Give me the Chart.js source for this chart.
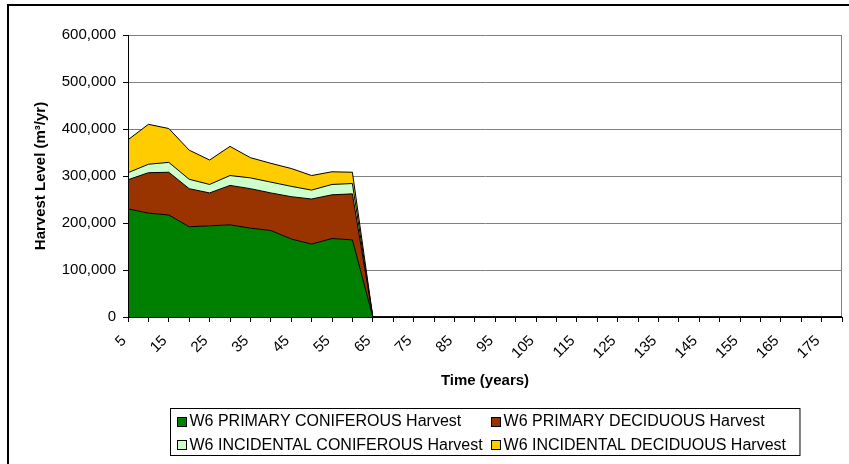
<!DOCTYPE html>
<html lang="en">
<head>
    <meta charset="UTF-8">
    <title>W6 Harvest Level</title>
    <script src="https://cdn.jsdelivr.net/npm/chart.js@4.4.1/dist/chart.umd.min.js"></script>
    <style>
        body {
            margin: 0;
            background: #ffffff;
        }
        #harvestChart {
            display: block;
        }
    </style>
</head>
<body>
    <canvas id="harvestChart" width="849" height="464"></canvas>
    <script>
        // time axis (years)
        const years = [5, 10, 15, 20, 25, 30, 35, 40, 45, 50, 55, 60, 65, 70, 75, 80, 85, 90,
            95, 100, 105, 110, 115, 120, 125, 130, 135, 140, 145, 150, 155, 160, 165, 170, 175, 180];

        // harvest volumes, m3/yr
        const primaryConiferous = [230000, 221000, 217000, 192000, 194000, 196000, 189000, 184000, 166000, 155000, 167000, 164000, 0,
            0, 0, 0, 0, 0, 0, 0, 0, 0, 0, 0, 0, 0, 0, 0, 0, 0, 0, 0, 0, 0, 0, 0];
        const primaryDeciduous = [62000, 86000, 91000, 81000, 70000, 84000, 84000, 80000, 90000, 96000, 93000, 98000, 0,
            0, 0, 0, 0, 0, 0, 0, 0, 0, 0, 0, 0, 0, 0, 0, 0, 0, 0, 0, 0, 0, 0, 0];
        const incidentalConiferous = [15000, 18000, 21000, 20000, 18000, 21000, 23000, 23000, 22000, 19000, 22000, 22000, 0,
            0, 0, 0, 0, 0, 0, 0, 0, 0, 0, 0, 0, 0, 0, 0, 0, 0, 0, 0, 0, 0, 0, 0];
        const incidentalDeciduous = [70000, 85000, 72000, 62000, 52000, 62000, 43000, 40000, 38000, 31000, 27000, 24000, 0,
            0, 0, 0, 0, 0, 0, 0, 0, 0, 0, 0, 0, 0, 0, 0, 0, 0, 0, 0, 0, 0, 0, 0];

        const seriesNames = [
            'W6 PRIMARY CONIFEROUS Harvest',
            'W6 PRIMARY DECIDUOUS Harvest',
            'W6 INCIDENTAL CONIFEROUS Harvest',
            'W6 INCIDENTAL DECIDUOUS Harvest'
        ];
        const seriesColors = ['#008000', '#993300', '#ccffcc', '#ffcc00'];

        const FONT = '"Liberation Sans", Arial, sans-serif';
        Chart.defaults.font.family = FONT;
        Chart.defaults.color = '#000';

        // frame, plot border and axis lines
        const framePlugin = {
            id: 'frame',
            beforeDraw(chart) {
                const ctx = chart.ctx;
                ctx.save();
                ctx.strokeStyle = '#000';
                ctx.lineWidth = 2;
                ctx.beginPath();
                ctx.moveTo(8, chart.height);
                ctx.lineTo(8, 5);
                ctx.lineTo(chart.width, 5);
                ctx.stroke();
                ctx.restore();
            },
            beforeDatasetsDraw(chart) {
                const a = chart.chartArea;
                const ctx = chart.ctx;
                ctx.save();
                ctx.strokeStyle = '#808080';
                ctx.lineWidth = 1;
                ctx.beginPath();
                ctx.moveTo(Math.round(a.right) - 0.5, a.top);
                ctx.lineTo(Math.round(a.right) - 0.5, a.bottom);
                ctx.stroke();
                ctx.restore();
            },
            afterDatasetsDraw(chart) {
                const a = chart.chartArea;
                const ctx = chart.ctx;
                ctx.save();
                ctx.strokeStyle = '#000';
                ctx.lineWidth = 1;
                ctx.beginPath();
                ctx.moveTo(Math.round(a.left) + 0.5, a.top);
                ctx.lineTo(Math.round(a.left) + 0.5, Math.round(a.bottom) + 0.5);
                ctx.lineTo(a.right, Math.round(a.bottom) + 0.5);
                ctx.stroke();
                ctx.restore();
            }
        };

        // two-column boxed legend under the axis title
        const legendPlugin = {
            id: 'boxLegend',
            afterDraw(chart) {
                const ctx = chart.ctx;
                const a = chart.chartArea;
                const sets = chart.data.datasets;
                ctx.save();
                ctx.font = '16px ' + FONT;
                const w1 = Math.max(ctx.measureText(sets[0].label).width, ctx.measureText(sets[2].label).width);
                const w2 = Math.max(ctx.measureText(sets[1].label).width, ctx.measureText(sets[3].label).width);
                const sw = 9, gap = 4, pad = 6, colGap = 8;
                const width = pad + sw + gap + w1 + colGap + sw + gap + w2 + pad + 8;
                const left = Math.round((a.left + a.right) / 2 - width / 2) + 0.5;
                const top = Math.round(chart.scales.x.bottom) + 16.5;
                const height = 47;
                ctx.fillStyle = '#fff';
                ctx.fillRect(left, top, width, height);
                ctx.strokeStyle = '#000';
                ctx.lineWidth = 1;
                ctx.strokeRect(left, top, width, height);

                const cols = [left + pad, left + pad + sw + gap + w1 + colGap];
                const rows = [top + 12.5, top + 36];
                ctx.textBaseline = 'middle';
                sets.forEach((d, i) => {
                    const x = cols[i % 2];
                    const y = rows[Math.floor(i / 2)];
                    ctx.fillStyle = d.backgroundColor;
                    ctx.fillRect(Math.round(x) + 0.5, Math.round(y - 4.5) + 0.5, sw, sw);
                    ctx.strokeStyle = '#000';
                    ctx.strokeRect(Math.round(x) + 0.5, Math.round(y - 4.5) + 0.5, sw, sw);
                    ctx.fillStyle = '#000';
                    ctx.fillText(d.label, x + sw + gap, y + 1);
                });
                ctx.restore();
            }
        };

        const layers = [primaryConiferous, primaryDeciduous, incidentalConiferous, incidentalDeciduous];

        new Chart(document.getElementById('harvestChart'), {
            type: 'line',
            data: {
                labels: years,
                datasets: layers.map((vals, i) => ({
                    label: seriesNames[i],
                    data: vals,
                    backgroundColor: seriesColors[i],
                    borderColor: '#000',
                    borderWidth: 1,
                    pointRadius: 0,
                    tension: 0,
                    fill: i === 0 ? 'origin' : '-1'
                }))
            },
            options: {
                responsive: false,
                animation: false,
                layout: {
                    padding: { left: 28, top: 35, right: 7, bottom: 72 }
                },
                plugins: {
                    legend: { display: false },
                    tooltip: { enabled: false }
                },
                scales: {
                    x: {
                        stacked: true,
                        offset: false,
                        afterFit: s => {
                            s.height = 75;
                            s.paddingLeft = 0;
                            s.paddingRight = 0;
                        },
                        grid: {
                            drawOnChartArea: false,
                            tickLength: 5,
                            tickColor: '#000'
                        },
                        border: { color: '#000' },
                        ticks: {
                            autoSkip: false,
                            minRotation: 45,
                            maxRotation: 45,
                            padding: 10,
                            labelOffset: -4,
                            font: { size: 15 },
                            color: '#000',
                            callback: function (value, index) {
                                return index % 2 === 0 ? this.getLabelForValue(value) : '';
                            }
                        },
                        title: {
                            display: true,
                            text: 'Time (years)',
                            font: { size: 15, weight: 'bold' },
                            color: '#000',
                            padding: { top: 4, bottom: 2 }
                        }
                    },
                    y: {
                        stacked: true,
                        min: 0,
                        max: 600000,
                        afterFit: s => { s.width = 100; },
                        grid: {
                            color: '#808080',
                            tickLength: 5,
                            tickColor: '#000'
                        },
                        border: { color: '#000' },
                        ticks: {
                            stepSize: 100000,
                            padding: 7,
                            font: { size: 15 },
                            color: '#000',
                            callback: v => v.toLocaleString('en-US')
                        },
                        title: {
                            display: true,
                            text: 'Harvest Level (m³/yr)',
                            font: { size: 15, weight: 'bold' },
                            color: '#000',
                            padding: { top: 4, bottom: 4 }
                        }
                    }
                }
            },
            plugins: [framePlugin, legendPlugin]
        });
    </script>
</body>
</html>
